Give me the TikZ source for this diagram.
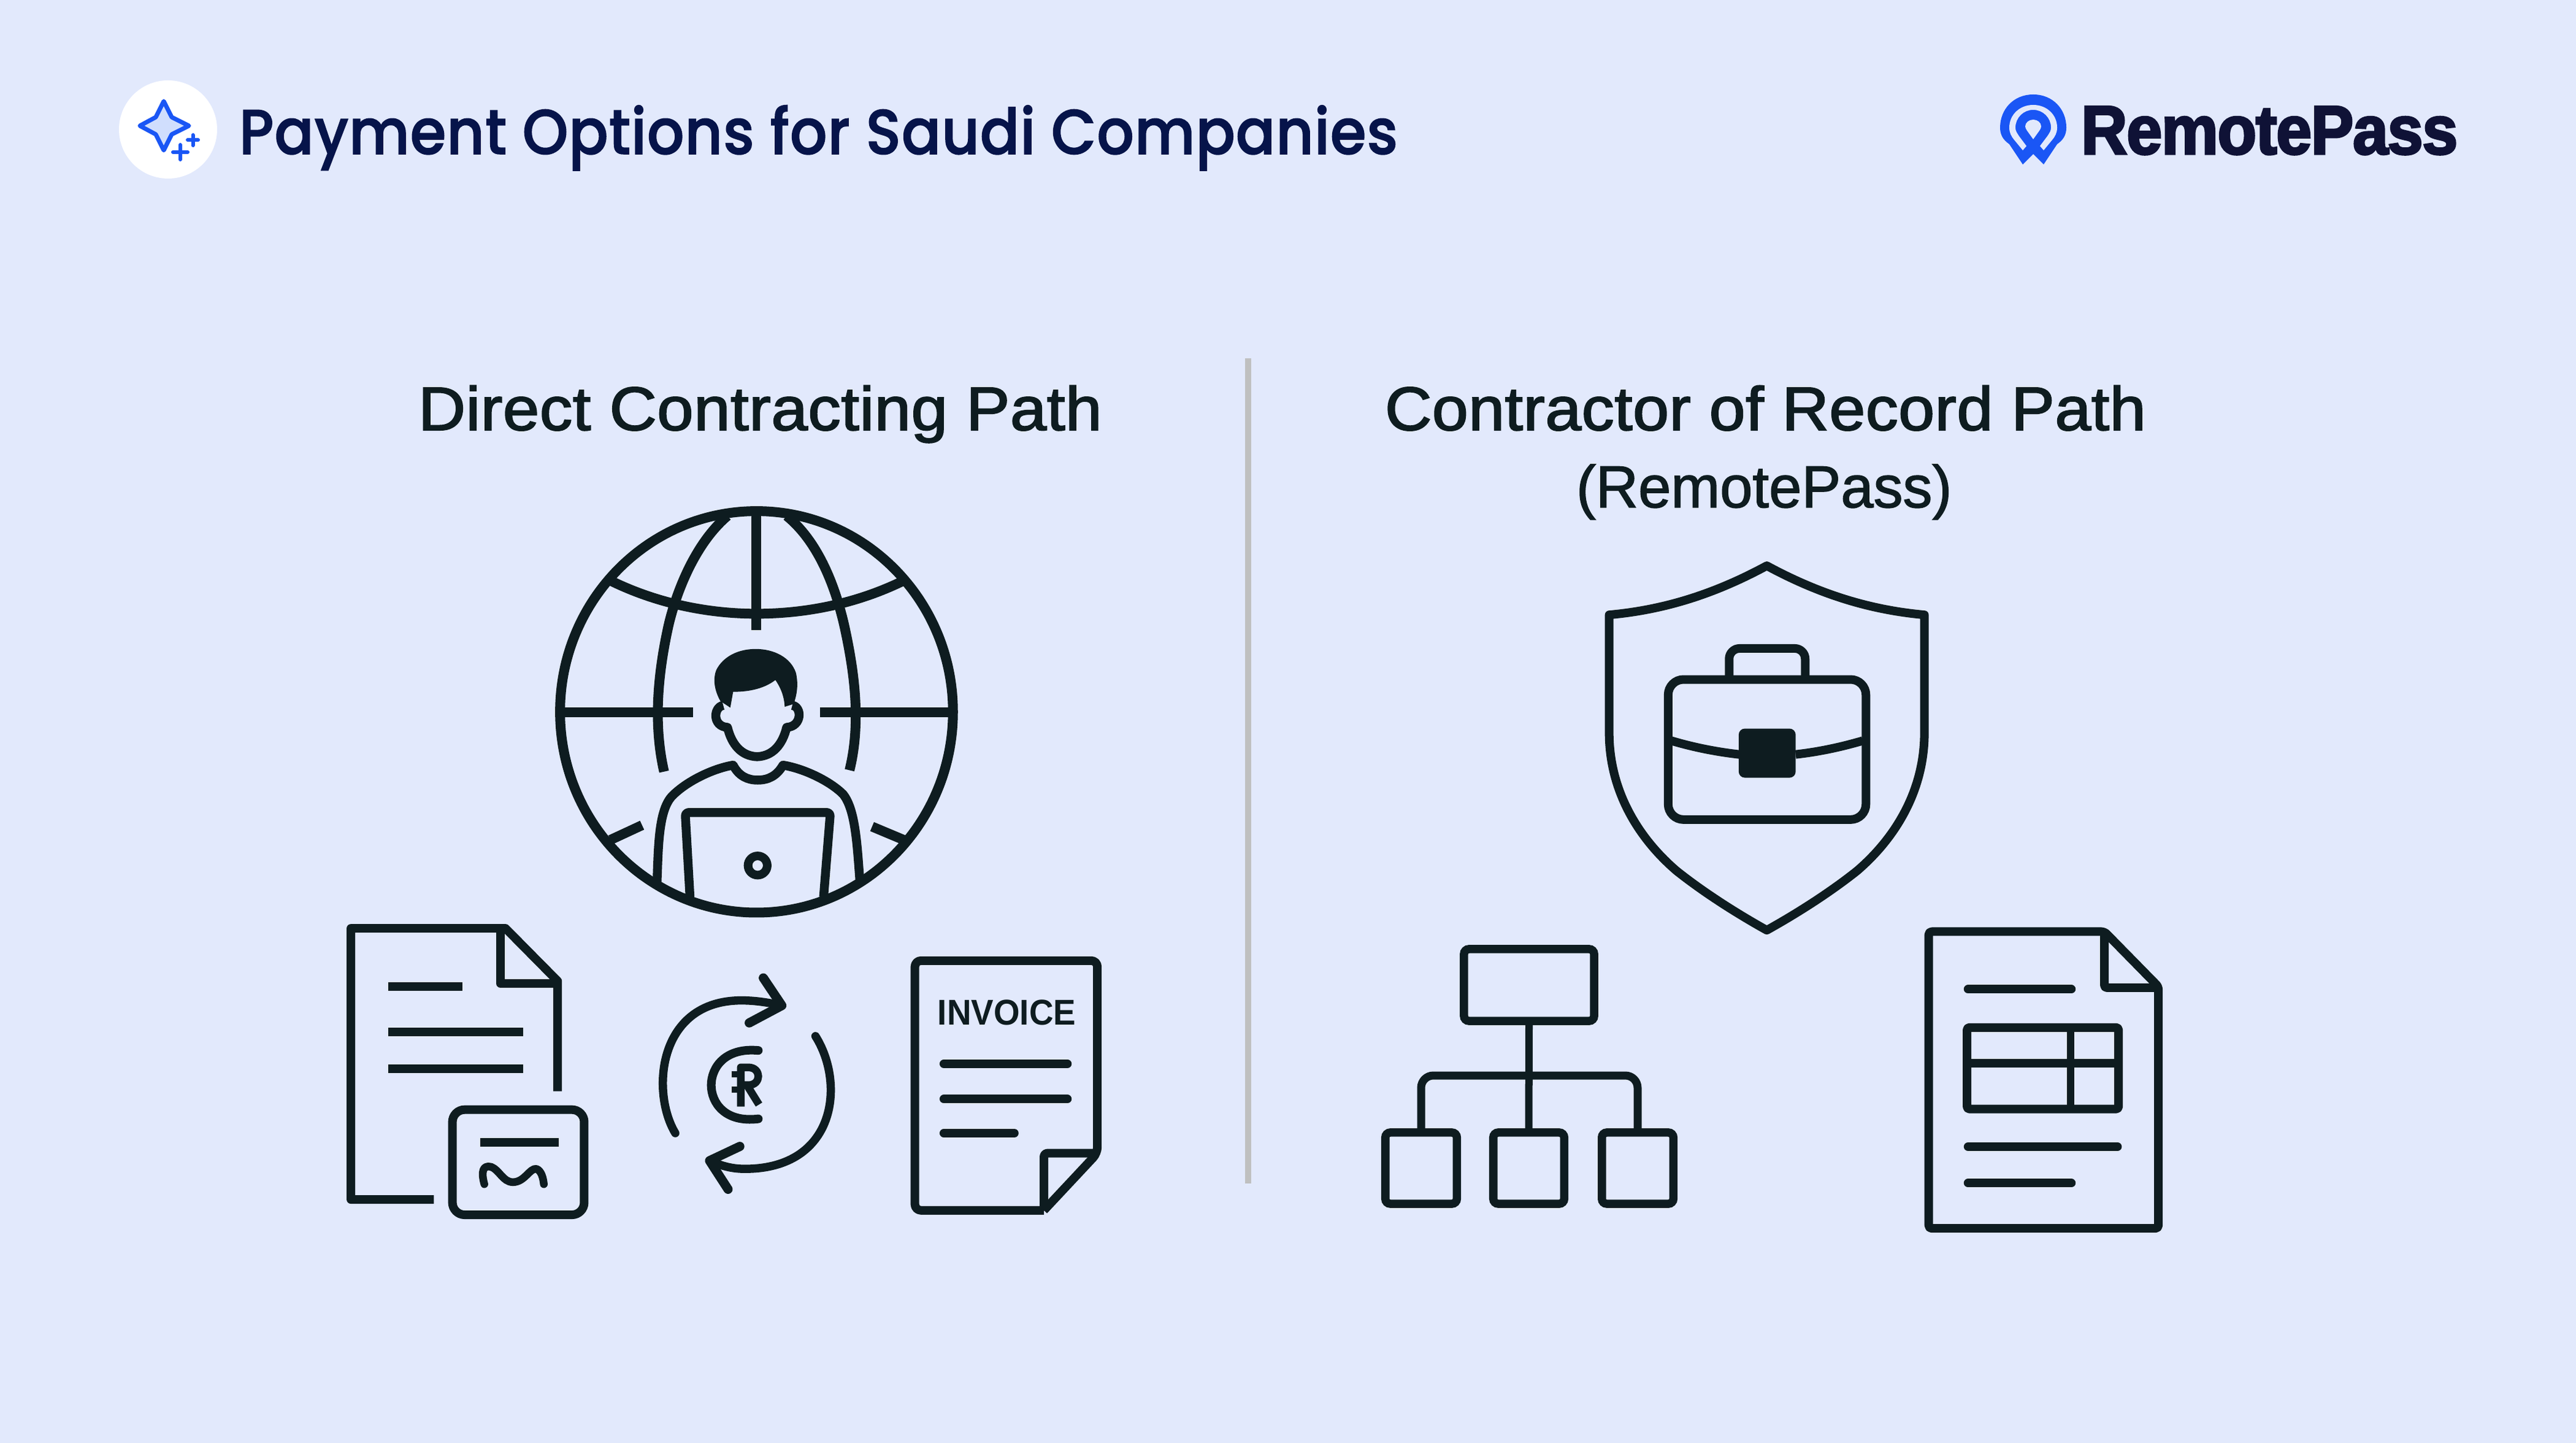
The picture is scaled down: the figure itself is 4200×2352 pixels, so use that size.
\documentclass[tikz,border=0pt]{standalone}
\usepackage{fontspec}
\usepackage{graphicx}
\setmainfont{Liberation Sans}
\newfontfamily\titlefont[FakeBold=1.5,LetterSpace=1]{Poppins Medium}
\newfontfamily\headfont[FakeBold=2,LetterSpace=0.5]{Liberation Sans}
\newfontfamily\subfont[FakeBold=1.5]{Liberation Sans}
\newfontfamily\logofont[FakeBold=3,LetterSpace=-1.5]{Liberation Sans Bold}
\definecolor{bgc}{HTML}{E2E9FC}
\definecolor{ink}{HTML}{0E1C20}
\definecolor{titlec}{HTML}{06144A}
\definecolor{logoc}{HTML}{0F1236}
\definecolor{bluec}{HTML}{1A56F5}
\definecolor{starfill}{HTML}{D0DEFD}
\definecolor{divc}{HTML}{BFC0C0}
\newcommand{\fitw}[2]{\resizebox{#1}{\height}{#2}}
\tikzset{
  stroke/.style={draw=ink,line width=0.14cm,line join=round},
  roundline/.style={stroke,line cap=round},
  buttline/.style={stroke,line cap=butt},
  txt/.style={inner sep=0pt,outer sep=0pt,anchor=base west},
  obox/.style={draw=ink,line width=0.135cm,rounded corners=0.08cm,inner sep=0pt,outer sep=0pt,shape=rectangle}
}
\begin{document}
\begin{tikzpicture}[x=0.01cm,y=-0.01cm]
\useasboundingbox (0,0) rectangle (4200,2352);
\fill[bgc] (0,0) rectangle (4200,2352);

% header badge
\fill[white] (274,211) circle (80);
\draw[bluec,fill=starfill,line width=0.07cm,line join=round]
  (267,165) -- (280,191) -- (308,205) -- (280,219) -- (267,245) -- (254,219) -- (228,205) -- (254,191) -- cycle;
\draw[bluec,line width=0.06cm,line cap=round] (294,236) -- (294,260) (282,248) -- (306,248);
\draw[bluec,line width=0.06cm,line cap=round] (314.5,220) -- (314.5,237) (306,228) -- (323,228);
\node[txt,text=titlec] (title) at (390,251) {\fitw{18.88cm}{\titlefont\fontsize{29.3pt}{32pt}\selectfont Payment Options for Saudi Companies}};

% logo
\fill[bluec] (3298,268) -- (3315,251) -- (3332,268) -- (3354,235) .. controls (3364,228) and (3369,220) .. (3369,208)
  .. controls (3369,178) and (3347,154) .. (3315,154) .. controls (3283,154) and (3261,178) .. (3261,208)
  .. controls (3261,220) and (3266,228) .. (3276,235) -- cycle;
\fill[bgc] (3298,245) -- (3284,228) .. controls (3279,222) and (3276,216) .. (3276,208)
  .. controls (3276,187) and (3293,171) .. (3315,171) .. controls (3337,171) and (3354,187) .. (3354,208)
  .. controls (3354,216) and (3351,222) .. (3346,228) -- (3332,245) -- (3326,238) -- (3338,222)
  .. controls (3342,216) and (3344,213) .. (3344,208) .. controls (3344,192) and (3331,179) .. (3315,179)
  .. controls (3299,179) and (3286,192) .. (3286,208) .. controls (3286,213) and (3288,216) .. (3292,222) -- (3304,238) -- cycle;
\fill[bgc] (3315,227) -- (3305,213) .. controls (3303,210) and (3302,208) .. (3302,206)
  .. controls (3302,200) and (3308,195) .. (3315,195) .. controls (3322,195) and (3328,200) .. (3328,206)
  .. controls (3328,208) and (3327,210) .. (3325,213) -- cycle;
\node[txt,text=logoc] (logo) at (3393,251) {\fitw{6.14cm}{\logofont\fontsize{32pt}{34pt}\selectfont RemotePass}};

% headings
\node[txt,text=ink] (lefthead) at (682,701) {\fitw{11.14cm}{\headfont\fontsize{28.5pt}{30pt}\selectfont Direct Contracting Path}};
\node[txt,text=ink] (righthead) at (2258,701) {\fitw{12.4cm}{\headfont\fontsize{28.5pt}{30pt}\selectfont Contractor of Record Path}};
\node[txt,text=ink] (rightsub) at (2570,827) {\fitw{6.12cm}{\subfont\fontsize{27.5pt}{30pt}\selectfont (RemotePass)}};

% divider
\draw[divc,line width=0.1cm] (2035,584) -- (2035,1929);

% globe with person
\begin{scope}[shift={(8.8cm,-8cm)},x=0.004592cm,y=-0.004592cm]
  \draw[stroke,line width=0.16cm] (768,783) ellipse (697 and 712);
  \draw[buttline,line width=0.16cm] (768,70) -- (768,492);
  \draw[buttline,line width=0.16cm] (665,88) .. controls (545,190) and (480,370) .. (455,480) .. controls (420,640) and (400,820) .. (440,995);
  \draw[buttline,line width=0.16cm] (875,88) .. controls (1000,190) and (1055,370) .. (1080,480) .. controls (1115,640) and (1140,820) .. (1098,990);
  \draw[buttline,line width=0.16cm] (255,320) .. controls (420,400) and (600,435) .. (768,435) .. controls (940,435) and (1120,400) .. (1285,320);
  \draw[buttline,line width=0.16cm] (80,785) -- (543,785);
  \draw[buttline,line width=0.16cm] (993,785) -- (1460,785);
  \draw[buttline,line width=0.16cm] (250,1237) -- (362,1185);
  \draw[buttline,line width=0.16cm] (1290,1237) -- (1178,1190);
  \fill[ink] (640,745) .. controls (620,710) and (612,670) .. (625,635) .. controls (650,585) and (705,560) .. (765,560)
     .. controls (830,560) and (890,590) .. (908,645) .. controls (918,690) and (910,725) .. (900,755)
     -- (868,765) .. controls (866,725) and (852,695) .. (835,670) .. controls (790,705) and (730,712) .. (685,712)
     -- (675,768) -- cycle;
  \draw[stroke,line width=0.145cm] (650,760) .. controls (615,765) and (610,835) .. (665,838)
     .. controls (680,900) and (715,940) .. (770,942) .. controls (825,940) and (860,900) .. (875,838)
     .. controls (930,835) and (930,765) .. (895,760);
  \draw[stroke,line width=0.145cm] (415,1385) .. controls (420,1260) and (420,1130) .. (470,1080)
     .. controls (520,1030) and (610,985) .. (685,972) .. controls (705,1010) and (735,1025) .. (772,1025)
     .. controls (810,1025) and (840,1010) .. (862,972) .. controls (940,985) and (1030,1030) .. (1075,1075)
     .. controls (1120,1130) and (1125,1260) .. (1135,1385);
  \draw[stroke,line width=0.145cm,rounded corners=0.06cm] (532,1440) -- (515,1140) -- (1030,1140) -- (1006,1440);
  \draw[stroke,line width=0.14cm] (772,1328) circle (34);
\end{scope}

% contract document with signature
\begin{scope}[shift={(5.4cm,-14.8cm)},x=0.005485cm,y=-0.003333cm]
  \draw[buttline] (305,1425) -- (58,1425) -- (58,97) -- (518,97) -- (673,355) -- (673,895);
  \draw[stroke] (503,97) -- (503,367) -- (673,367);
  \draw[buttline] (170,381) -- (390,381);
  \draw[buttline] (170,603) -- (570,603);
  \draw[buttline] (170,784) -- (570,784);
  \draw[stroke,rounded corners=0.2cm] (360,985) rectangle (752,1500);
  \draw[buttline] (443,1146) -- (677,1146);
  \draw[roundline,line width=0.125cm] (455,1350) .. controls (445,1290) and (450,1255) .. (475,1265)
     .. controls (500,1280) and (510,1340) .. (540,1340) .. controls (575,1340) and (590,1270) .. (610,1275)
     .. controls (625,1285) and (630,1320) .. (632,1350);
  % exchange arrows
  \draw[roundline,line width=0.135cm] (1023,1100) .. controls (950,900) and (970,450) .. (1220,450) .. controls (1260,450) and (1300,460) .. (1340,475);
  \draw[roundline,line width=0.15cm] (1285,340) -- (1340,475) -- (1243,560);
  \draw[roundline,line width=0.135cm] (1440,625) .. controls (1530,860) and (1500,1275) .. (1230,1275) .. controls (1190,1275) and (1160,1260) .. (1125,1235);
  \draw[roundline,line width=0.15cm] (1215,1165) -- (1125,1235) -- (1180,1375);
  \draw[roundline,line width=0.14cm] (1270,695) .. controls (1170,680) and (1130,780) .. (1130,865) .. controls (1130,950) and (1170,1050) .. (1270,1030);
  % riyal mark
  \draw[stroke,line width=0.125cm,line cap=butt] (1218,970) -- (1218,778) -- (1240,778) .. controls (1280,778) and (1280,865) .. (1240,865) -- (1218,865);
  \draw[stroke,line width=0.125cm,line cap=butt] (1238,870) -- (1272,960);
  \draw[stroke,line width=0.1cm,line cap=butt] (1190,812) -- (1225,812);
  \draw[stroke,line width=0.1cm,line cap=butt] (1190,888) -- (1225,888);
\end{scope}

% invoice
\begin{scope}[shift={(14cm,-15.2cm)},x=0.003333cm,y=-0.003333cm]
  \draw[stroke,rounded corners=0.1cm] (905,1358) -- (273,1358) -- (273,135) -- (1167,135) -- (1167,1078) -- (905,1358);
  \draw[stroke,rounded corners=0.06cm] (905,1358) -- (905,1078) -- (1167,1078);
  \node[txt,text=ink] (invoicelabel) at (385,450) {\fitw{2.25cm}{\bfseries\fontsize{16.6pt}{18pt}\selectfont INVOICE}};
  \draw[roundline] (415,640) -- (1020,640);
  \draw[roundline] (415,813) -- (1020,813);
  \draw[roundline] (415,980) -- (760,980);
\end{scope}

% shield with briefcase
\begin{scope}[shift={(25.6cm,-8.9cm)},x=0.004082cm,y=-0.004209cm]
  \draw[stroke] (780,75) .. controls (580,180) and (380,245) .. (152,265) -- (152,730)
     .. controls (155,950) and (270,1130) .. (420,1255) .. controls (530,1340) and (660,1420) .. (780,1485)
     .. controls (900,1420) and (1030,1340) .. (1140,1255) .. controls (1290,1130) and (1405,950) .. (1408,730)
     -- (1408,265) .. controls (1180,245) and (980,180) .. cycle;
  \draw[stroke,rounded corners=0.25cm] (387,515) rectangle (1175,1057);
  \draw[stroke,rounded corners=0.17cm,line cap=butt] (630,515) -- (630,395) -- (933,395) -- (933,515);
  \fill[ink,rounded corners=0.1cm] (668,705) rectangle (895,895);
  \draw[stroke,line cap=butt] (400,752) .. controls (490,778) and (580,795) .. (670,805);
  \draw[stroke,line cap=butt] (895,805) .. controls (985,795) and (1070,778) .. (1162,752);
\end{scope}

% org chart
\node[obox,minimum width=2.12cm,minimum height=1.17cm] (rootbox) at (2493,1605.5) {};
\node[obox,minimum width=1.165cm,minimum height=1.16cm] (kidone) at (2317,1904) {};
\node[obox,minimum width=1.155cm,minimum height=1.16cm] (kidtwo) at (2492.5,1904) {};
\node[obox,minimum width=1.165cm,minimum height=1.16cm] (kidthree) at (2670,1904) {};
\coordinate (bus) at (2493,1753);
\draw[stroke,line width=0.12cm,line cap=butt] (rootbox.south) -- (kidtwo.north);
\draw[stroke,line width=0.13cm,rounded corners=0.2cm,line cap=butt] (kidone.north) |- (bus) -| (kidthree.north);

% report document
\begin{scope}[shift={(22.2cm,-14.9cm)},x=0.008546cm,y=-0.003444cm]
  \draw[stroke,rounded corners=0.05cm] (1080,1482) -- (1080,80) -- (1415,80) -- (1518,340) -- (1518,1482) -- cycle;
  \draw[stroke,rounded corners=0.04cm] (1415,80) -- (1415,345) -- (1518,345);
  \draw[roundline] (1155,352) -- (1352,352);
  \draw[stroke,rounded corners=0.04cm] (1153,533) rectangle (1442,918);
  \draw[buttline] (1153,703) -- (1442,703);
  \draw[buttline,line width=0.12cm] (1351,533) -- (1351,918);
  \draw[roundline] (1155,1096) -- (1440,1096);
  \draw[roundline] (1155,1268) -- (1352,1268);
\end{scope}
\end{tikzpicture}
\end{document}
